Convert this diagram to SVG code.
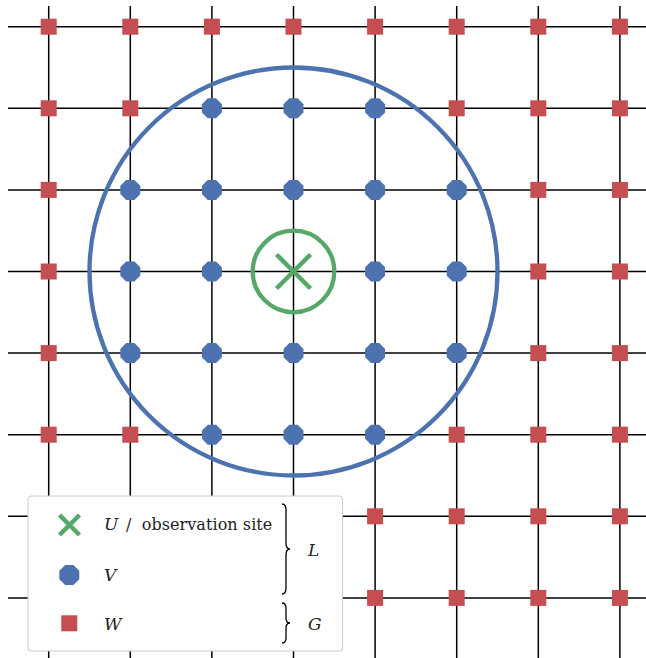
<svg xmlns="http://www.w3.org/2000/svg" xmlns:xlink="http://www.w3.org/1999/xlink" width="646" height="658" viewBox="0 0 646 658">
<style>
.grid line{stroke:#000;stroke-width:1.5}
.w{fill:#c44e52}
.v{fill:#4c72b0}
.t{font-family:"DejaVu Serif","Liberation Serif",serif;font-size:16px;fill:#222}
.i{font-style:italic;font-size:17px}
.br{fill:none;stroke:#000;stroke-width:1.3}
</style>
<defs>
<rect id="sq" x="-8" y="-8" width="16" height="16"/>
<polygon id="oct" points="9.98,4.13 4.13,9.98 -4.13,9.98 -9.98,4.13 -9.98,-4.13 -4.13,-9.98 4.13,-9.98 9.98,-4.13"/>
</defs>
<g id="grid" class="grid">
<line x1="48.7" y1="6" x2="48.7" y2="658"/>
<line x1="130.3" y1="6" x2="130.3" y2="658"/>
<line x1="211.9" y1="6" x2="211.9" y2="658"/>
<line x1="293.5" y1="6" x2="293.5" y2="658"/>
<line x1="375.1" y1="6" x2="375.1" y2="658"/>
<line x1="456.7" y1="6" x2="456.7" y2="658"/>
<line x1="538.3" y1="6" x2="538.3" y2="658"/>
<line x1="619.9" y1="6" x2="619.9" y2="658"/>
<line x1="8" y1="26.7" x2="646" y2="26.7"/>
<line x1="8" y1="108.3" x2="646" y2="108.3"/>
<line x1="8" y1="189.9" x2="646" y2="189.9"/>
<line x1="8" y1="271.5" x2="646" y2="271.5"/>
<line x1="8" y1="353.1" x2="646" y2="353.1"/>
<line x1="8" y1="434.7" x2="646" y2="434.7"/>
<line x1="8" y1="516.3" x2="646" y2="516.3"/>
<line x1="8" y1="597.9" x2="646" y2="597.9"/>
</g>
<g id="circles">
<circle cx="293.5" cy="271.5" r="204" fill="none" stroke="#4c72b0" stroke-width="4.3"/>
<circle cx="293.5" cy="271.5" r="40.8" fill="none" stroke="#55a868" stroke-width="4.3"/>
</g>
<g id="W" class="w">
<use xlink:href="#sq" x="48.7" y="26.7"/><use xlink:href="#sq" x="130.3" y="26.7"/><use xlink:href="#sq" x="211.9" y="26.7"/><use xlink:href="#sq" x="293.5" y="26.7"/><use xlink:href="#sq" x="375.1" y="26.7"/><use xlink:href="#sq" x="456.7" y="26.7"/><use xlink:href="#sq" x="538.3" y="26.7"/><use xlink:href="#sq" x="619.9" y="26.7"/>
<use xlink:href="#sq" x="48.7" y="108.3"/><use xlink:href="#sq" x="130.3" y="108.3"/><use xlink:href="#sq" x="456.7" y="108.3"/><use xlink:href="#sq" x="538.3" y="108.3"/><use xlink:href="#sq" x="619.9" y="108.3"/>
<use xlink:href="#sq" x="48.7" y="189.9"/><use xlink:href="#sq" x="538.3" y="189.9"/><use xlink:href="#sq" x="619.9" y="189.9"/>
<use xlink:href="#sq" x="48.7" y="271.5"/><use xlink:href="#sq" x="538.3" y="271.5"/><use xlink:href="#sq" x="619.9" y="271.5"/>
<use xlink:href="#sq" x="48.7" y="353.1"/><use xlink:href="#sq" x="538.3" y="353.1"/><use xlink:href="#sq" x="619.9" y="353.1"/>
<use xlink:href="#sq" x="48.7" y="434.7"/><use xlink:href="#sq" x="130.3" y="434.7"/><use xlink:href="#sq" x="456.7" y="434.7"/><use xlink:href="#sq" x="538.3" y="434.7"/><use xlink:href="#sq" x="619.9" y="434.7"/>
<use xlink:href="#sq" x="375.1" y="516.3"/><use xlink:href="#sq" x="456.7" y="516.3"/><use xlink:href="#sq" x="538.3" y="516.3"/><use xlink:href="#sq" x="619.9" y="516.3"/>
<use xlink:href="#sq" x="375.1" y="597.9"/><use xlink:href="#sq" x="456.7" y="597.9"/><use xlink:href="#sq" x="538.3" y="597.9"/><use xlink:href="#sq" x="619.9" y="597.9"/>
</g>
<g id="V" class="v">
<use xlink:href="#oct" x="211.9" y="108.3"/><use xlink:href="#oct" x="293.5" y="108.3"/><use xlink:href="#oct" x="375.1" y="108.3"/>
<use xlink:href="#oct" x="130.3" y="189.9"/><use xlink:href="#oct" x="211.9" y="189.9"/><use xlink:href="#oct" x="293.5" y="189.9"/><use xlink:href="#oct" x="375.1" y="189.9"/><use xlink:href="#oct" x="456.7" y="189.9"/>
<use xlink:href="#oct" x="130.3" y="271.5"/><use xlink:href="#oct" x="211.9" y="271.5"/><use xlink:href="#oct" x="375.1" y="271.5"/><use xlink:href="#oct" x="456.7" y="271.5"/>
<use xlink:href="#oct" x="130.3" y="353.1"/><use xlink:href="#oct" x="211.9" y="353.1"/><use xlink:href="#oct" x="293.5" y="353.1"/><use xlink:href="#oct" x="375.1" y="353.1"/><use xlink:href="#oct" x="456.7" y="353.1"/>
<use xlink:href="#oct" x="211.9" y="434.7"/><use xlink:href="#oct" x="293.5" y="434.7"/><use xlink:href="#oct" x="375.1" y="434.7"/>
</g>
<g id="U">
<path d="M276.5,254.5 L310.5,288.5 M310.5,254.5 L276.5,288.5" stroke="#55a868" stroke-width="4.5" fill="none"/>
</g>
<g id="legend">
<rect x="28" y="496" width="314.5" height="155" rx="3" fill="#fff" stroke="#cccccc" stroke-width="1"/>
<path d="M59.5,515 L79.5,535 M79.5,515 L59.5,535" stroke="#55a868" stroke-width="4.5" fill="none"/>
<use xlink:href="#oct" x="69.3" y="575" class="v"/>
<use xlink:href="#sq" x="69.3" y="623.3" class="w"/>
<text class="t" x="104" y="529.5"><tspan class="i">U</tspan><tspan x="126">/</tspan><tspan x="141.7" textLength="130.6">observation site</tspan></text>
<text class="t i" x="104" y="581">V</text>
<text class="t i" x="104" y="629.5">W</text>
<path class="br" d="M282,504 Q286,504 286,510 L286,543 Q286,549 290,549 Q286,549 286,555 L286,588 Q286,594 282,594"/>
<path class="br" d="M282,603 Q286,603 286,608 L286,618 Q286,623 290,623 Q286,623 286,628 L286,638 Q286,643 282,643"/>
<text class="t i" x="308" y="556">L</text>
<text class="t i" x="308" y="630">G</text>
</g>
</svg>
